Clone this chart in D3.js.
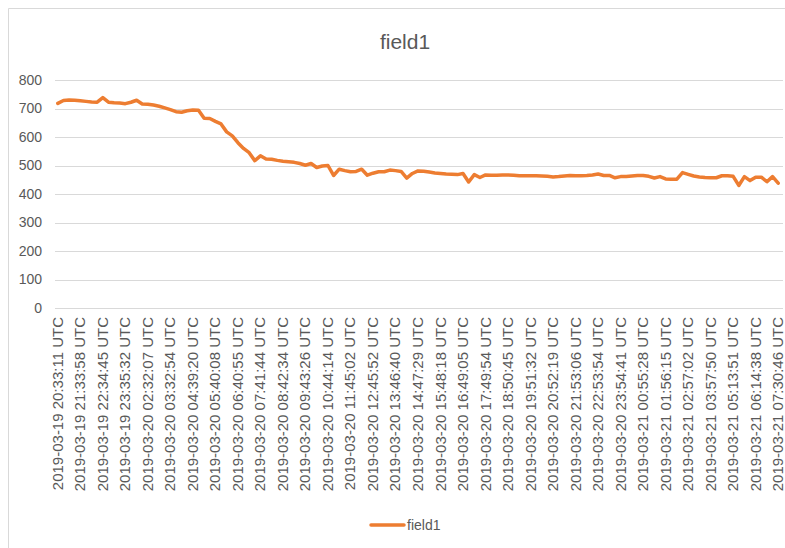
<!DOCTYPE html>
<html>
<head>
<meta charset="utf-8">
<script src="https://cdn.jsdelivr.net/npm/d3@7"></script>
<style>
  html, body { margin: 0; padding: 0; background: #fff; }
  svg { display: block; }
  text { font-family: "Liberation Sans", Arial, sans-serif; fill: #595959; }
</style>
</head>
<body>
<svg id="chart" width="785" height="548"></svg>
<script>
const title = "field1";
const seriesName = "field1";
const tickLabels = [
  "2019-03-19 20:33:11 UTC", "2019-03-19 21:33:58 UTC", "2019-03-19 22:34:45 UTC",
  "2019-03-19 23:35:32 UTC", "2019-03-20 02:32:07 UTC", "2019-03-20 03:32:54 UTC",
  "2019-03-20 04:39:20 UTC", "2019-03-20 05:40:08 UTC", "2019-03-20 06:40:55 UTC",
  "2019-03-20 07:41:44 UTC", "2019-03-20 08:42:34 UTC", "2019-03-20 09:43:26 UTC",
  "2019-03-20 10:44:14 UTC", "2019-03-20 11:45:02 UTC", "2019-03-20 12:45:52 UTC",
  "2019-03-20 13:46:40 UTC", "2019-03-20 14:47:29 UTC", "2019-03-20 15:48:18 UTC",
  "2019-03-20 16:49:05 UTC", "2019-03-20 17:49:54 UTC", "2019-03-20 18:50:45 UTC",
  "2019-03-20 19:51:32 UTC", "2019-03-20 20:52:19 UTC", "2019-03-20 21:53:06 UTC",
  "2019-03-20 22:53:54 UTC", "2019-03-20 23:54:41 UTC", "2019-03-21 00:55:28 UTC",
  "2019-03-21 01:56:15 UTC", "2019-03-21 02:57:02 UTC", "2019-03-21 03:57:50 UTC",
  "2019-03-21 05:13:51 UTC", "2019-03-21 06:14:38 UTC", "2019-03-21 07:30:46 UTC"
];
const labelEvery = 4;
const values = [
  718, 728, 730, 729, 727, 725, 723, 722, 738, 722,
  720, 719, 717, 722, 729, 716, 715, 712, 708, 702,
  696, 689, 687, 692, 695, 694, 666, 665, 655, 646,
  618, 604, 580, 560, 545, 517, 534, 523, 522, 518,
  515, 513, 511, 507, 501, 507, 493, 498, 500, 465,
  487, 482, 478, 479, 487, 466, 473, 478, 478, 484,
  482, 479, 456, 472, 481, 480, 477, 474, 472, 470,
  469, 468, 472, 442, 468, 458, 467, 466, 466, 467,
  467, 466, 464, 464, 464, 464, 463, 462, 460, 461,
  463, 465, 464, 464, 465, 467, 470, 465, 465, 457,
  461, 461, 463, 465, 465, 462, 456, 461, 453, 452,
  452, 475, 469, 463, 460, 458, 457, 457, 464, 464,
  462, 430, 461, 447, 459, 459, 443, 461, 438
];
const yTicks = [0, 100, 200, 300, 400, 500, 600, 700, 800];

const svg = d3.select("#chart");
const lineColor = "#ED7D31";
const gridColor = "#d9d9d9";

// chart frame
svg.append("path")
  .attr("d", "M8.5,548 V8.5 H785")
  .attr("fill", "none")
  .attr("stroke", gridColor)
  .attr("stroke-width", 1);

const plot = { left: 55, right: 781, top: 80, bottom: 308 };

const x = d3.scalePoint()
  .domain(d3.range(values.length))
  .range([plot.left, plot.right])
  .padding(0.5);

const y = d3.scaleLinear()
  .domain([0, 800])
  .range([plot.bottom, plot.top]);

// gridlines
svg.append("g")
  .selectAll("line")
  .data(yTicks)
  .join("line")
  .attr("x1", plot.left)
  .attr("x2", 783)
  .attr("y1", d => Math.round(y(d)) + 0.5)
  .attr("y2", d => Math.round(y(d)) + 0.5)
  .attr("stroke", gridColor)
  .attr("stroke-width", 1);

// y axis labels
const yAxis = svg.append("g")
  .attr("transform", `translate(${plot.left},0)`)
  .call(d3.axisLeft(y).tickValues(yTicks).tickSize(0).tickPadding(13));
yAxis.select(".domain").remove();
yAxis.selectAll("text")
  .style("font-size", "14px")
  .style("font-family", "'Liberation Sans', Arial, sans-serif")
  .attr("fill", "#595959");

// x axis labels
const xAxis = svg.append("g")
  .attr("transform", `translate(0,${plot.bottom})`)
  .call(d3.axisBottom(x)
    .tickValues(d3.range(0, values.length, labelEvery))
    .tickFormat(i => tickLabels[i / labelEvery])
    .tickSize(0));
xAxis.select(".domain").remove();
xAxis.selectAll("text")
  .style("font-size", "15px")
  .style("font-family", "'Liberation Sans', Arial, sans-serif")
  .attr("fill", "#595959")
  .attr("text-anchor", "end")
  .attr("transform", "rotate(-90)")
  .attr("x", -9)
  .attr("y", 0)
  .attr("dy", "0.3em");

// line
const line = d3.line()
  .x((d, i) => x(i))
  .y(d => y(d));

svg.append("path")
  .datum(values)
  .attr("d", line)
  .attr("fill", "none")
  .attr("stroke", lineColor)
  .attr("stroke-width", 3.5)
  .attr("stroke-linejoin", "round")
  .attr("stroke-linecap", "round");

// title
svg.append("text")
  .attr("x", 405)
  .attr("y", 49)
  .attr("text-anchor", "middle")
  .style("font-size", "21px")
  .text(title);

// legend
const legend = svg.append("g");
legend.append("line")
  .attr("x1", 371).attr("x2", 404)
  .attr("y1", 525).attr("y2", 525)
  .attr("stroke", lineColor)
  .attr("stroke-width", 3.5)
  .attr("stroke-linecap", "round");
legend.append("text")
  .attr("x", 407)
  .attr("y", 530)
  .style("font-size", "14px")
  .text(seriesName);
</script>
</body>
</html>
